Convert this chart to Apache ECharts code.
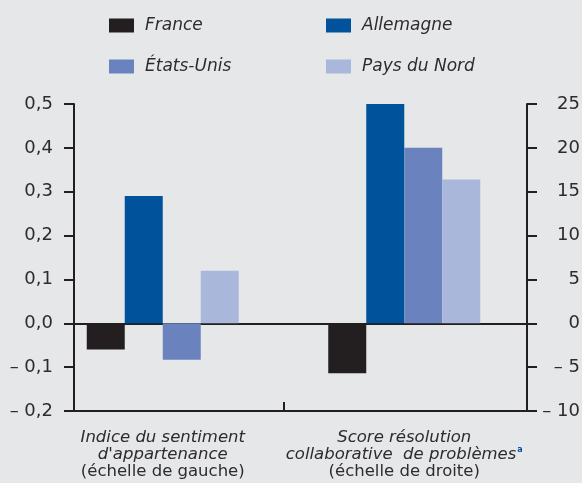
<!DOCTYPE html>
<html><head><meta charset="utf-8">
<script src="https://cdn.jsdelivr.net/npm/echarts@6/dist/echarts.min.js"></script>
<style>html,body{margin:0;padding:0;background:#e6e7e9}#c{width:582px;height:483px}</style>
</head><body><div id="c"></div>
<script>
// ---- data ----
const categoryLines = [
  ["Indice du sentiment", "d'appartenance", "(échelle de gauche)"],
  ["Score résolution", "collaborative  de problèmes", "(échelle de droite)"]
];
const categoryNotes = ["", "a"];
const categories = categoryLines.map(l => l.slice(0, 2).join(' '));
const seriesNames = ["France", "Allemagne", "États-Unis", "Pays du Nord"];
const france     = [-0.06, -5.7];
const allemagne  = [0.29, 25];
const etatsUnis  = [-0.083, 20];
const paysDuNord = [0.12, 16.4];
const leftAxisRange  = [-0.2, 0.5, 0.1];
const rightAxisRange = [-10, 25, 5];
const dividerCategory = [""];

const seriesValues = [france, allemagne, etatsUnis, paysDuNord];
const colors = ['#231f20', '#00529b', '#6a82bd', '#a9b7da'];
const ink = '#231f20';
const txt = '#2e2b2c';
const FONT = 'DejaVu Sans';

function fmtLeft(v) {
  const s = Math.abs(v).toFixed(1).replace('.', ',');
  return v < -1e-9 ? '– ' + s : s;
}
function fmtRight(v) {
  return v < 0 ? '– ' + Math.abs(v) : String(v);
}

const G = {top: 104, bottom: 72, outerBoundsMode: 'none', containLabel: false};
const chart = echarts.init(document.getElementById('c'), null, {renderer: 'canvas'});

const series = [];
seriesNames.forEach((name, k) => {
  series.push({
    type: 'bar', name, xAxisIndex: 2, yAxisIndex: 2,
    data: [seriesValues[k][0], '-'],
    barWidth: 38, barGap: '0%',
    itemStyle: {color: colors[k]}
  });
});
seriesNames.forEach((name, k) => {
  series.push({
    type: 'bar', name, xAxisIndex: 3, yAxisIndex: 3,
    data: ['-', seriesValues[k][1]],
    barWidth: 38, barGap: '0%',
    itemStyle: {color: colors[k]}
  });
});

const legendBase = {
  orient: 'vertical', top: 12, itemGap: 24, itemWidth: 25, itemHeight: 14,
  icon: 'rect', selectedMode: false,
  textStyle: {fontFamily: FONT, fontSize: 17, fontStyle: 'italic', color: txt, padding: [0, 0, 0, 6]}
};

chart.setOption({
  animation: false,
  backgroundColor: '#e6e7e9',
  color: colors,
  legend: [
    Object.assign({}, legendBase, {left: 104, data: [seriesNames[0], seriesNames[2]]}),
    Object.assign({}, legendBase, {left: 321, data: [seriesNames[1], seriesNames[3]]})
  ],
  grid: [
    Object.assign({}, G, {left: 74, right: 55}),
    Object.assign({}, G, {left: 42, right: 57}),
    Object.assign({}, G, {left: 283.5, right: 55})
  ],
  xAxis: [
    {gridIndex: 0, type: 'category', data: categories, position: 'bottom',
     axisLine: {show: true, onZero: false, lineStyle: {color: ink, width: 2}},
     axisTick: {show: false}, axisLabel: {show: false}, splitLine: {show: false}},
    {gridIndex: 0, type: 'category', data: categories, position: 'top',
     axisLine: {show: true, onZero: true, onZeroAxisIndex: 0, lineStyle: {color: ink, width: 2}},
     axisTick: {show: false}, axisLabel: {show: false}, splitLine: {show: false}},
    {gridIndex: 1, type: 'category', data: categories, position: 'bottom',
     axisLine: {show: false, onZero: false}, axisTick: {show: false}, splitLine: {show: false},
     axisLabel: {
       show: true, interval: 0, margin: 18, color: txt,
       formatter: function (v, i) {
         const L = categoryLines[i];
         const note = categoryNotes[i] ? '{s|' + categoryNotes[i] + '}' : '';
         return '{i|' + L[0] + '}\n{i|' + L[1] + '}' + note + '\n{n|' + L[2] + '}';
       },
       rich: {
         i: {fontFamily: FONT, fontSize: 16.5, fontStyle: 'italic', lineHeight: 17, color: txt},
         n: {fontFamily: FONT, fontSize: 16.5, lineHeight: 17, color: txt},
         s: {fontFamily: FONT, fontSize: 8, fontWeight: 'bold', lineHeight: 17, color: '#00529b', verticalAlign: 'top', padding: [0, 0, 6, 1]}
       }
     }},
    {gridIndex: 1, type: 'category', data: categories, position: 'top', show: false,
     axisLine: {show: false, onZero: false}},
    {gridIndex: 2, type: 'category', data: dividerCategory, position: 'bottom',
     axisLine: {show: false, onZero: false}, axisLabel: {show: false}, splitLine: {show: false},
     axisTick: {show: true, inside: true, length: 9, lineStyle: {color: ink, width: 2}}}
  ],
  yAxis: [
    {gridIndex: 0, type: 'value', position: 'left',
     min: leftAxisRange[0], max: leftAxisRange[1], interval: leftAxisRange[2],
     splitLine: {show: false},
     axisLine: {show: true, onZero: false, lineStyle: {color: ink, width: 2}},
     axisTick: {show: true, inside: false, length: 10, lineStyle: {color: ink, width: 2}},
     axisLabel: {formatter: fmtLeft, margin: 21, color: txt, fontFamily: FONT, fontSize: 18}},
    {gridIndex: 0, type: 'value', position: 'right',
     min: rightAxisRange[0], max: rightAxisRange[1], interval: rightAxisRange[2],
     splitLine: {show: false},
     axisLine: {show: true, onZero: false, lineStyle: {color: ink, width: 2}},
     axisTick: {show: true, inside: false, length: 10, lineStyle: {color: ink, width: 2}},
     axisLabel: {formatter: fmtRight, margin: 53, align: 'right', color: txt, fontFamily: FONT, fontSize: 18}},
    {gridIndex: 1, type: 'value', show: false,
     min: leftAxisRange[0], max: leftAxisRange[1], interval: leftAxisRange[2], splitLine: {show: false}},
    {gridIndex: 1, type: 'value', show: false, position: 'right',
     min: rightAxisRange[0], max: rightAxisRange[1], interval: rightAxisRange[2], splitLine: {show: false}},
    {gridIndex: 2, type: 'value', show: false,
     min: rightAxisRange[0], max: rightAxisRange[1], interval: rightAxisRange[2], splitLine: {show: false}}
  ],
  series: series
});
</script></body></html>
